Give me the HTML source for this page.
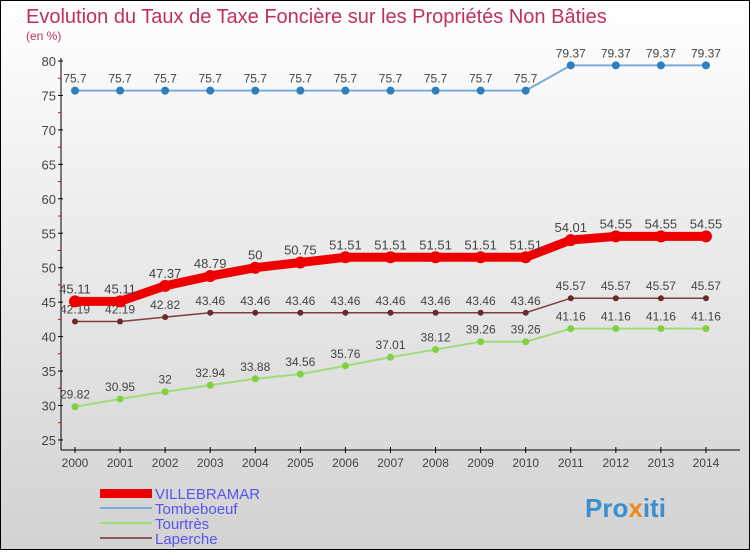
<!DOCTYPE html>
<html><head><meta charset="utf-8"><style>
body{margin:0}
#c{width:750px;height:550px;position:relative;font-family:"Liberation Sans",sans-serif}
</style></head><body>
<div id="c">
<svg id="s" width="750" height="550" xmlns="http://www.w3.org/2000/svg">
<defs><linearGradient id="bg" x1="0" y1="0" x2="0" y2="1"><stop offset="0" stop-color="#ffffff"/><stop offset="1" stop-color="#d2d2d2"/></linearGradient></defs>
<rect x="0.5" y="0.5" width="749" height="549" fill="url(#bg)" stroke="#000"/>
<text x="26" y="23" font-size="20" fill="#c0305a">Evolution du Taux de Taxe Foncière sur les Propriétés Non Bâties</text>
<text x="26" y="40" font-size="12" fill="#c0305a">(en %)</text>
<g id="axes"></g><g id="series"></g>
<g>
<rect x="100" y="489" width="52" height="9" fill="#e00"/>
<text x="155" y="499" font-size="15" fill="#5555ee">VILLEBRAMAR</text>
<rect x="100" y="507" width="52" height="2" fill="#7aaed8"/>
<text x="155" y="514" font-size="15" fill="#5555ee">Tombeboeuf</text>
<rect x="100" y="522" width="52" height="2" fill="#9fdc77"/>
<text x="155" y="529" font-size="15" fill="#5555ee">Tourtrès</text>
<rect x="100" y="537" width="52" height="2" fill="#8a5a5a"/>
<text x="155" y="544" font-size="15" fill="#5555ee">Laperche</text>
</g>
<text x="585" y="517" font-size="26" font-weight="bold" fill="#3a8fd0">Pro<tspan fill="#f08a20">x</tspan>iti</text>
</svg></div>
<script>
const years=[2000,2001,2002,2003,2004,2005,2006,2007,2008,2009,2010,2011,2012,2013,2014];
const yTicks=[25,30,35,40,45,50,55,60,65,70,75,80];
const villebramar=[45.11,45.11,47.37,48.79,50,50.75,51.51,51.51,51.51,51.51,51.51,54.01,54.55,54.55,54.55];
const tombeboeuf=[75.7,75.7,75.7,75.7,75.7,75.7,75.7,75.7,75.7,75.7,75.7,79.37,79.37,79.37,79.37];
const tourtres=[29.82,30.95,32,32.94,33.88,34.56,35.76,37.01,38.12,39.26,39.26,41.16,41.16,41.16,41.16];
const laperche=[42.19,42.19,42.82,43.46,43.46,43.46,43.46,43.46,43.46,43.46,43.46,45.57,45.57,45.57,45.57];
const NS="http://www.w3.org/2000/svg";
const x=i=>75+i*45.07, y=v=>61+(80-v)*6.89;
function mk(t,a,p){const e=document.createElementNS(NS,t);for(const k in a)e.setAttribute(k,a[k]);p.appendChild(e);return e;}
const ax=document.getElementById('axes'), sg=document.getElementById('series');
let l=mk('line',{x1:61,y1:58,x2:61,y2:450,stroke:'#000'},ax);


l=mk('line',{x1:61,y1:450,x2:740,y2:450,stroke:'#000'},ax);


yTicks.forEach((v,i)=>{mk('line',{x1:58,y1:y(v),x2:63,y2:y(v),stroke:'#000'},ax);
 if(i<yTicks.length-1)mk('line',{x1:58,y1:y(v+2.5),x2:61,y2:y(v+2.5),stroke:'#e00'},ax);
 const t=mk('text',{x:56,y:y(v)+5,'font-size':13,fill:'#444','text-anchor':'end'},ax);t.textContent=v;
 
 });
years.forEach((yr,i)=>{mk('line',{x1:x(i),y1:447,x2:x(i),y2:453,stroke:'#000'},ax);
 const t=mk('text',{x:x(i),y:467,'font-size':12,fill:'#444','text-anchor':'middle'},ax);t.textContent=yr;
 
 });
function series(vals,name,col,w,r,dot,fs){
 const g=mk('g',{},sg);
 
 
 mk('polyline',{points:vals.map((v,i)=>x(i)+','+y(v)).join(' '),fill:'none',stroke:col,'stroke-width':w},g);
 vals.forEach((v,i)=>{const c=mk('circle',{cx:x(i),cy:y(v),r:r,fill:dot},g);
  
  
  const t=mk('text',{x:x(i),y:y(v)-8,'font-size':fs,fill:'#444','text-anchor':'middle'},g);t.textContent=v;
  
  });
}
series(tombeboeuf,'tombeboeuf','#7aaed8',2,4,'#2e7fc0',12);
series(tourtres,'tourtres','#9fdc77',2,3.5,'#80d040',12);
series(laperche,'laperche','#7a4040',1.5,3,'#6a2a2a',12);
series(villebramar,'villebramar','#e00',9,6,'#e00',13);
</script>
</body></html>
